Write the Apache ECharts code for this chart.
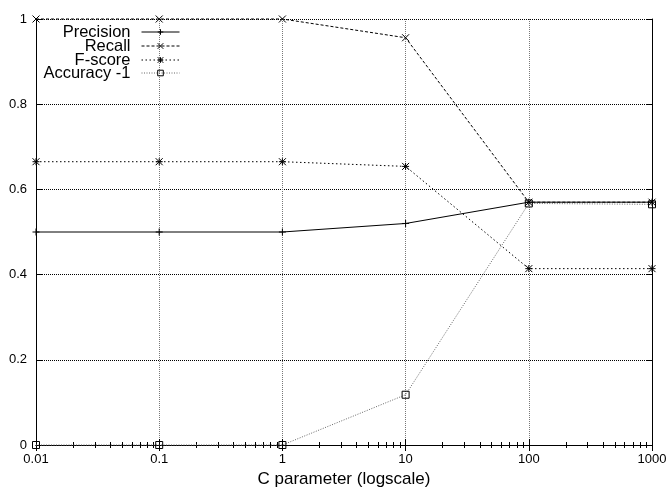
<!DOCTYPE html>
<html>
<head>
<meta charset="utf-8">
<script src="https://cdn.jsdelivr.net/npm/echarts@6/dist/echarts.min.js"></script>
<style>
html, body { margin: 0; padding: 0; background: #fff; }
#chart { width: 668px; height: 489px; }
</style>
</head>
<body>
<div id="chart"></div>
<script>
var cValues = [0.01, 0.1, 1, 10, 100, 1000];
var precision = [0.5, 0.5, 0.5, 0.52, 0.57, 0.57];
var recall = [1, 1, 1, 0.956, 0.57, 0.57];
var fscore = [0.665, 0.665, 0.665, 0.654, 0.414, 0.414];
var accuracy = [0, 0, 0, 0.118, 0.567, 0.565];
var seriesNames = ['Precision', 'Recall', 'F-score', 'Accuracy -1'];

function pairs(ys) {
    var out = [];
    for (var i = 0; i < cValues.length; i++) {
        out.push([cValues[i], ys[i]]);
    }
    return out;
}

var font = 'Liberation Sans, Arial, sans-serif';
var plusPath = 'path://M0,5L10,5M5,0L5,10';
var crossPath = 'path://M0,0L10,10M10,0L0,10';
var starPath = 'path://M0,0L10,10M10,0L0,10M0,5L10,5M5,0L5,10';
var squarePath = 'path://M0,0L10,0L10,10L0,10Z';

function makeSeries(name, ys, symbol, size, lineType, color) {
    return {
        name: name,
        type: 'line',
        data: pairs(ys),
        symbol: symbol,
        symbolSize: size,
        showSymbol: true,
        clip: false,
        animation: false,
        itemStyle: {
            color: 'rgba(0,0,0,0)',
            borderColor: '#000',
            borderWidth: 1
        },
        lineStyle: {
            color: color,
            width: 1,
            type: lineType
        },
        emphasis: { disabled: true }
    };
}

var chartDom = document.getElementById('chart');
var chart = echarts.init(chartDom);

// legend rows, gnuplot style: text right-aligned, sample line on the right
var legendRows = [32, 46, 60, 73];
var legends = [];
for (var k = 0; k < seriesNames.length; k++) {
    legends.push({
        data: [seriesNames[k]],
        orient: 'vertical',
        align: 'right',
        right: 488,
        top: legendRows[k] - 10,
        itemWidth: 38,
        itemHeight: 7,
        itemGap: 0,
        padding: 0,
        selectedMode: false,
        lineStyle: { width: 1 },
        itemStyle: { borderWidth: 1 },
        textStyle: { fontFamily: font, fontSize: 16.5, color: '#000', lineHeight: 20, padding: [0, 6, 0, 0] }
    });
}

var option = {
    backgroundColor: '#fff',
    animation: false,
    legend: legends,
    grid: {
        left: 36,
        right: 16,
        top: 19,
        bottom: 44,
        outerBoundsMode: 'none'
    },
    xAxis: [{
        type: 'log',
        logBase: 10,
        min: 0.01,
        max: 1000,
        name: 'C parameter (logscale)',
        nameLocation: 'middle',
        nameGap: 26,
        nameTextStyle: { fontFamily: font, fontSize: 17, color: '#000' },
        axisLine: { show: true, lineStyle: { color: '#000', width: 1 } },
        axisTick: { inside: true, length: 6, lineStyle: { color: '#000' } },
        minorTick: { show: true, splitNumber: 9, length: 3, lineStyle: { color: '#000' } },
        axisLabel: {
            fontFamily: font, fontSize: 13, color: '#000', margin: 8,
            formatter: function (v) { return String(+v.toPrecision(6)); }
        },
        splitLine: { show: true, lineStyle: { color: '#777', type: 'dotted', width: 1 } }
    }, {
        type: 'log',
        logBase: 10,
        min: 0.01,
        max: 1000,
        position: 'top',
        axisLine: { show: true, lineStyle: { color: '#000', width: 1 } },
        axisTick: { inside: true, length: 6, lineStyle: { color: '#000' } },
        minorTick: { show: true, splitNumber: 9, length: 3, lineStyle: { color: '#000' } },
        axisLabel: { show: false },
        splitLine: { show: false }
    }],
    yAxis: [{
        type: 'value',
        min: 0,
        max: 1,
        interval: 0.2,
        axisLine: { show: true, lineStyle: { color: '#000', width: 1 } },
        axisTick: { inside: true, length: 6, lineStyle: { color: '#000' } },
        axisLabel: { fontFamily: font, fontSize: 13, color: '#000', margin: 9 },
        splitLine: { show: true, lineStyle: { color: '#000', type: 'dotted', width: 1 } }
    }, {
        type: 'value',
        min: 0,
        max: 1,
        interval: 0.2,
        position: 'right',
        axisLine: { show: true, lineStyle: { color: '#000', width: 1 } },
        axisTick: { inside: true, length: 6, lineStyle: { color: '#000' } },
        axisLabel: { show: false },
        splitLine: { show: false }
    }],
    series: [
        makeSeries('Precision', precision, plusPath, 7, 'solid', '#000'),
        makeSeries('Recall', recall, crossPath, 7, [3, 2], '#000'),
        makeSeries('F-score', fscore, starPath, 7, [1.5, 2.5], '#000'),
        makeSeries('Accuracy -1', accuracy, squarePath, 7, [1, 1.5], '#666')
    ]
};

option && chart.setOption(option);
</script>
</body>
</html>
